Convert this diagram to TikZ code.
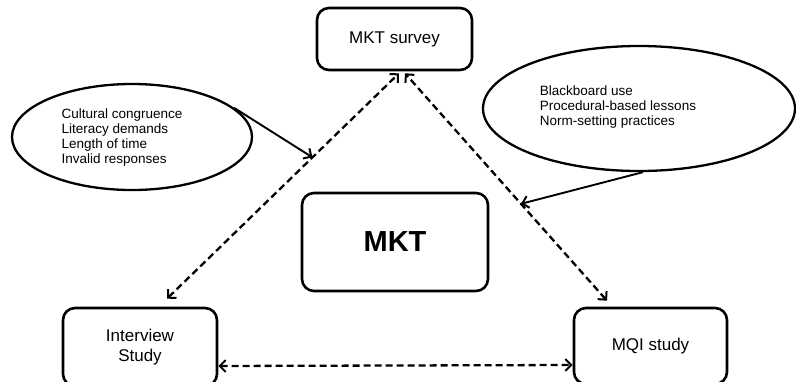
\documentclass[tikz,border=0pt]{standalone}
\usepackage{fontspec}
\setmainfont{Liberation Sans}
\usetikzlibrary{shapes.geometric,arrows.meta,calc}

\tikzset{
  >={Straight Barb[length=6pt,width=12pt,line width=2pt]},
  box/.style={draw, line width=2.6pt, rounded corners=12pt, inner sep=0pt, align=center},
  bubble/.style={draw, ellipse, line width=2.3pt, inner sep=0pt},
  bubbletext/.style={align=left, inner sep=0pt, font=\fontsize{13.5}{15}\selectfont},
  boxtext/.style={font=\fontsize{17}{20}\selectfont},
  link/.style={line width=2.3pt, dash pattern=on 7pt off 4pt, <->},
  note/.style={line width=1.9pt, ->}
}

\begin{document}
\begin{tikzpicture}[x=1pt, y=-1pt]
  \useasboundingbox (0,0) rectangle (796,381);
  \clip (0,0) rectangle (796,381);

  % the four boxes
  \node[box, boxtext, minimum width=155pt, minimum height=62pt] (survey) at (394.5,39) {MKT survey};
  \node[box, minimum width=186pt, minimum height=98pt, font=\fontsize{29}{32}\selectfont\bfseries] (mkt) at (395,242) {MKT};
  \node[box, boxtext, minimum width=154pt, minimum height=78pt] (interview) at (140,347) {Interview\\Study};
  \node[box, boxtext, minimum width=153pt, minimum height=76pt] (mqi) at (650.5,346) {MQI study};

  % the two comment bubbles
  \node[bubble, minimum width=240pt, minimum height=106pt] (lell) at (132,137) {};
  \node[bubbletext] at (122,138) {Cultural congruence\\Literacy demands\\Length of time\\Invalid responses};
  \node[bubble, minimum width=312pt, minimum height=125pt] (rell) at (639,108.5) {};
  \node[bubbletext] at (618,107) {Blackboard use\\Procedural-based lessons\\Norm-setting practices};

  % dashed two-way links
  \draw[link] ([xshift=27pt,yshift=8pt]interview.north) -- ([xshift=4.5pt,yshift=-2pt]survey.south)
    coordinate[pos=0.627] (lhit);
  \draw[link] ([xshift=-43.5pt,yshift=6pt]mqi.north) -- ([xshift=10.5pt,yshift=-2pt]survey.south)
    coordinate[pos=0.426] (rhit);
  \draw[link] ([yshift=-19pt]interview.east) -- ([yshift=-19pt]mqi.west);

  % bubbles pointing at the links
  \draw[note] (lell.16) -- (lhit);
  \draw[note] ([xshift=4pt]rell.south) -- (rhit);
\end{tikzpicture}
\end{document}
